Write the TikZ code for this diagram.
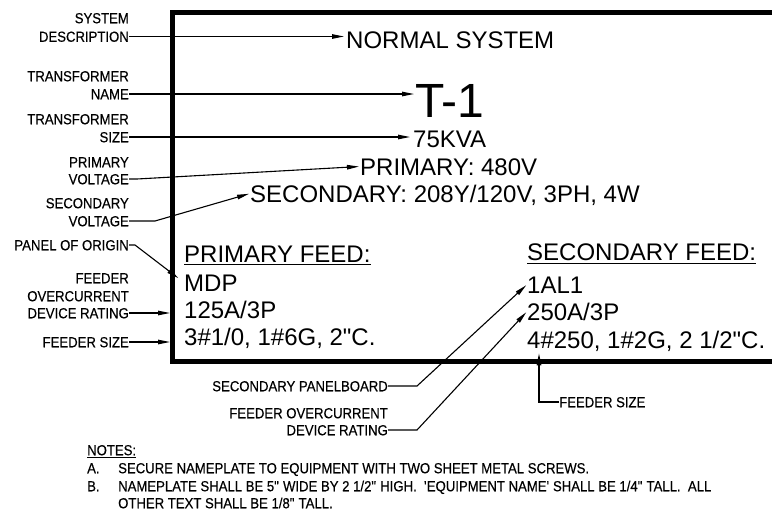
\documentclass[tikz,border=0pt]{standalone}
\usepackage{fontspec}
\setmainfont{Liberation Sans}
\newfontfamily\plNarrow[FakeStretch=0.9,FakeBold=0.4]{Liberation Sans}
\usetikzlibrary{arrows.meta}
\newcommand\plLbl{\plNarrow\fontsize{14.6}{16}\selectfont}
\newcommand\plMain{\fontsize{24}{28}\selectfont}
\newcommand\plBig{\fontsize{48}{56}\selectfont}
\begin{document}
\begin{tikzpicture}[x=1pt,y=-1pt,
  lbl/.style={font=\plLbl, inner sep=0pt, text height=10.5pt, text depth=0pt, anchor=east},
  lblw/.style={lbl, anchor=west},
  txt/.style={font=\plMain, inner sep=0pt, text height=17.2pt, text depth=0pt, anchor=west},
  conn/.style={line width=1.1pt, -{Triangle[length=12pt,width=4.5pt]}},
  uline/.style={line width=1.3pt}]
\useasboundingbox (0,0) rectangle (772,512);
\clip (0,0) rectangle (772,512);

% nameplate frame
\node[draw, line width=5pt, minimum width=627.5pt, minimum height=349pt,
      anchor=north west, inner sep=0pt] (plate) at (170,10) {};

% nameplate text
\node[txt] (normal) at (346,39.5) {NORMAL SYSTEM};
\node[txt, font=\plBig, text height=34.5pt] (t1) at (415,100.5) {T-1};
\node[txt] (kva) at (413,139) {75KVA};
\node[txt] (prim) at (360,166.5) {PRIMARY: 480V};
\node[txt] (sec) at (250,193.5) {SECONDARY: 208Y/120V, 3PH, 4W};
\node[txt] (pf) at (184,253.5) {PRIMARY FEED:};
\node[txt] (mdp) at (184,282.5) {MDP};
\node[txt] (p125) at (184,309.5) {125A/3P};
\node[txt] (p3) at (184,337) {3\#1/0, 1\#6G, 2\textquotedbl C.};
\node[txt] (sf) at (527,252) {SECONDARY FEED:};
\node[txt] (al1) at (527,284.5) {1AL1};
\node[txt] (s250) at (527,311.5) {250A/3P};
\node[txt] (s4) at (527,339.5) {4\#250, 1\#2G, 2 1/2\textquotedbl C.};
\draw[uline] ([yshift=-2.5pt]pf.south west) -- ([yshift=-2.5pt]pf.south east);
\draw[uline] ([yshift=-2.5pt]sf.south west) -- ([yshift=-2.5pt]sf.south east);

% left labels
\node[lbl] (l1a) at (129,18) {SYSTEM};
\node[lbl] (l1b) at (129,36.5) {DESCRIPTION};
\node[lbl] (l2a) at (129,76) {TRANSFORMER};
\node[lbl] (l2b) at (129,94) {NAME};
\node[lbl] (l3a) at (129,119) {TRANSFORMER};
\node[lbl] (l3b) at (129,137) {SIZE};
\node[lbl] (l4a) at (129,162) {PRIMARY};
\node[lbl] (l4b) at (129,179) {VOLTAGE};
\node[lbl] (l5a) at (129,203) {SECONDARY};
\node[lbl] (l5b) at (129,221) {VOLTAGE};
\node[lbl] (l6) at (129,245) {PANEL OF ORIGIN};
\node[lbl] (l7a) at (129,278) {FEEDER};
\node[lbl] (l7b) at (129,296) {OVERCURRENT};
\node[lbl] (l7c) at (129,313) {DEVICE RATING};
\node[lbl] (l8) at (129,342) {FEEDER SIZE};

% bottom labels
\node[lbl] (b1) at (388,386) {SECONDARY PANELBOARD};
\node[lbl] (b2a) at (388,413) {FEEDER OVERCURRENT};
\node[lbl] (b2b) at (388,430) {DEVICE RATING};
\node[lblw] (b3) at (559,402) {FEEDER SIZE};

% connectors
\draw[conn, shorten >=2pt] (l1b.east) -- (l1b.east -| normal.west);
\draw[conn, shorten >=1pt] (l2b.east) -- (l2b.east -| t1.west);
\draw[conn, shorten >=3pt] (l3b.east) -- (l3b.east -| kva.west);
\draw[conn, shorten >=1pt] (l4b.east) -- ++(8,0) -- (prim.west);
\draw[conn, shorten >=1pt] (l5b.east) -- ++(26,0) -- (sec.west);
\draw[conn, shorten >=7pt] (l6.east) -- ++(6,0) -- (mdp.west);
\draw[conn] (l7c.east) -- (l7c.east -| plate.west);
\draw[conn] (l8.east) -- (l8.east -| plate.west);
\draw[conn, shorten >=1pt] (b1.east) -- ++(29,0) -- (al1.west);
\draw[conn, shorten >=1pt] (b2b.east) -- ++(29,0) -- (s250.west);
\draw[conn, shorten >=5pt] (b3.west) -| ([xshift=12pt]s4.south west);

% notes
\node[lblw] (notes) at (87,450) {NOTES:};
\draw[line width=0.9pt] ([yshift=-2pt]notes.south west) -- ([yshift=-2pt]notes.south east);
\node[lblw] (na) at (87,468) {A.};
\node[lblw] (nat) at (118,468) {SECURE NAMEPLATE TO EQUIPMENT WITH TWO SHEET METAL SCREWS.};
\node[lblw] (nb) at (87,486) {B.};
\node[lblw] (nbt) at (118,486) {NAMEPLATE SHALL BE 5\textquotedbl\ WIDE BY 2 1/2\textquotedbl\ HIGH.\ \ \textquotesingle EQUIPMENT NAME\textquotesingle\ SHALL BE 1/4\textquotedbl\ TALL.\ \ ALL};
\node[lblw] (nbt2) at (118,503) {OTHER TEXT SHALL BE 1/8\textquotedbl\ TALL.};
\end{tikzpicture}
\end{document}
